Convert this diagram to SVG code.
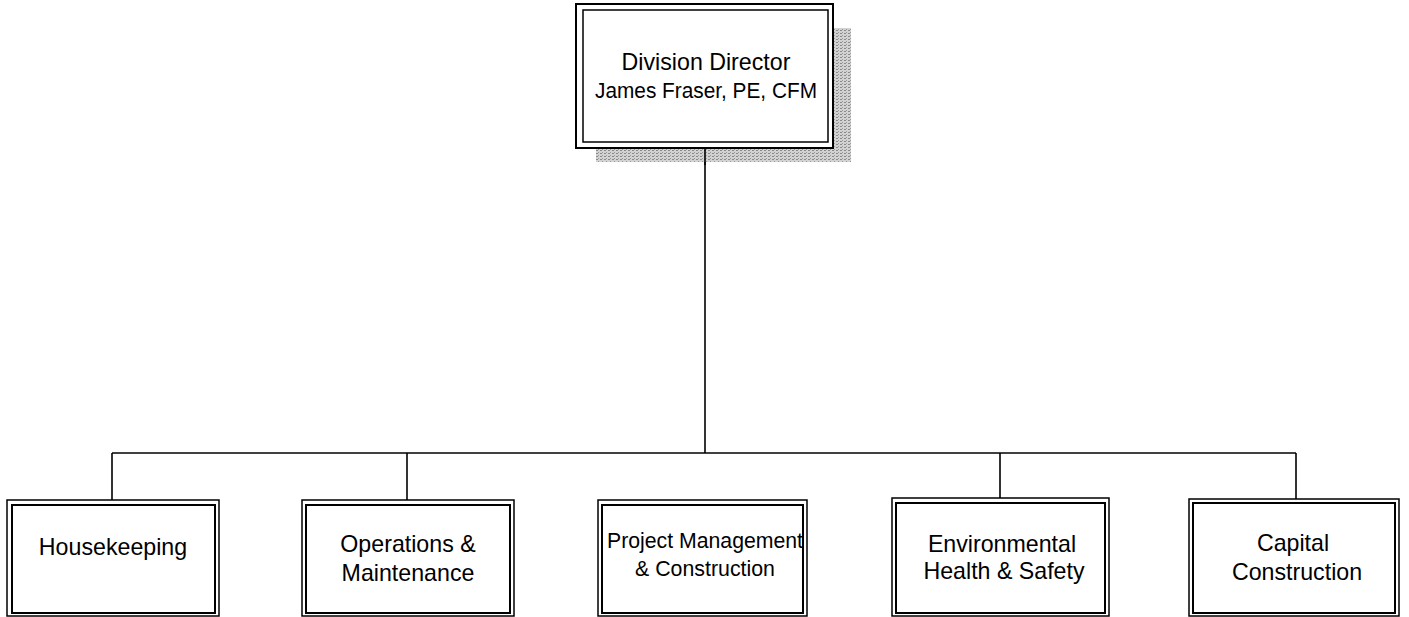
<svg xmlns="http://www.w3.org/2000/svg" width="1409" height="617" viewBox="0 0 1409 617">
<style>
.outer{fill:none;stroke:#000;stroke-width:1.5}
.inner{fill:#fff;stroke:#000;stroke-width:2}
.line{fill:none;stroke:#000;stroke-width:1.6}
text{font-family:"Liberation Sans",Arial,sans-serif;font-size:23.2px;fill:#000;text-anchor:middle}
.cond{font-size:22.5px}
</style>
<defs>
<pattern id="stip" width="4" height="3" patternUnits="userSpaceOnUse">
<rect width="4" height="3" fill="#d2d2d2"/>
<rect x="0" y="0" width="2" height="1" fill="#8a8a8a"/>
<rect x="2" y="2" width="1" height="1" fill="#9a9a9a"/>
</pattern>
</defs>
<g id="connectors">
<line class="line" x1="705" y1="148" x2="705" y2="453"/>
<line class="line" x1="112" y1="453" x2="1296" y2="453"/>
<line class="line" x1="112" y1="453" x2="112" y2="500"/>
<line class="line" x1="407" y1="453" x2="407" y2="500"/>
<line class="line" x1="1000" y1="453" x2="1000" y2="498"/>
<line class="line" x1="1296" y1="453" x2="1296" y2="499"/>
</g>
<g id="director">
<rect x="596" y="28" width="255" height="134" fill="url(#stip)"/>
<rect x="576" y="4" width="257" height="144" fill="#fff" stroke="#000" stroke-width="2"/>
<rect x="583" y="10" width="245" height="132" fill="#fff" stroke="#000" stroke-width="1.5"/>
<line class="line" x1="705" y1="148" x2="705" y2="165"/>
<text x="706" y="70">Division Director</text>
<text class="cond" x="706" y="98" textLength="222" lengthAdjust="spacingAndGlyphs">James Fraser, PE, CFM</text>
</g>
<g id="housekeeping">
<rect class="outer" x="7" y="500" width="212" height="116"/>
<rect class="inner" x="12" y="505" width="203" height="108"/>
<text x="113" y="555">Housekeeping</text>
</g>
<g id="operations">
<rect class="outer" x="302" y="500" width="212" height="116"/>
<rect class="inner" x="306" y="505" width="204" height="108"/>
<text x="408" y="552">Operations &amp;</text>
<text x="408" y="581">Maintenance</text>
</g>
<g id="project">
<rect class="outer" x="598" y="500" width="209" height="116"/>
<rect class="inner" x="602" y="505" width="201" height="108"/>
<text class="cond" x="705" y="548" textLength="196" lengthAdjust="spacingAndGlyphs">Project Management</text>
<text class="cond" x="705" y="576" textLength="140" lengthAdjust="spacingAndGlyphs">&amp; Construction</text>
</g>
<g id="environmental">
<rect class="outer" x="892" y="498" width="217" height="118"/>
<rect class="inner" x="896" y="503" width="209" height="110"/>
<text x="1002" y="552">Environmental</text>
<text x="1004" y="579">Health &amp; Safety</text>
</g>
<g id="capital">
<rect class="outer" x="1189" y="499" width="210" height="117"/>
<rect class="inner" x="1193" y="503" width="202" height="110"/>
<text x="1293" y="551">Capital</text>
<text x="1297" y="580">Construction</text>
</g>
</svg>
